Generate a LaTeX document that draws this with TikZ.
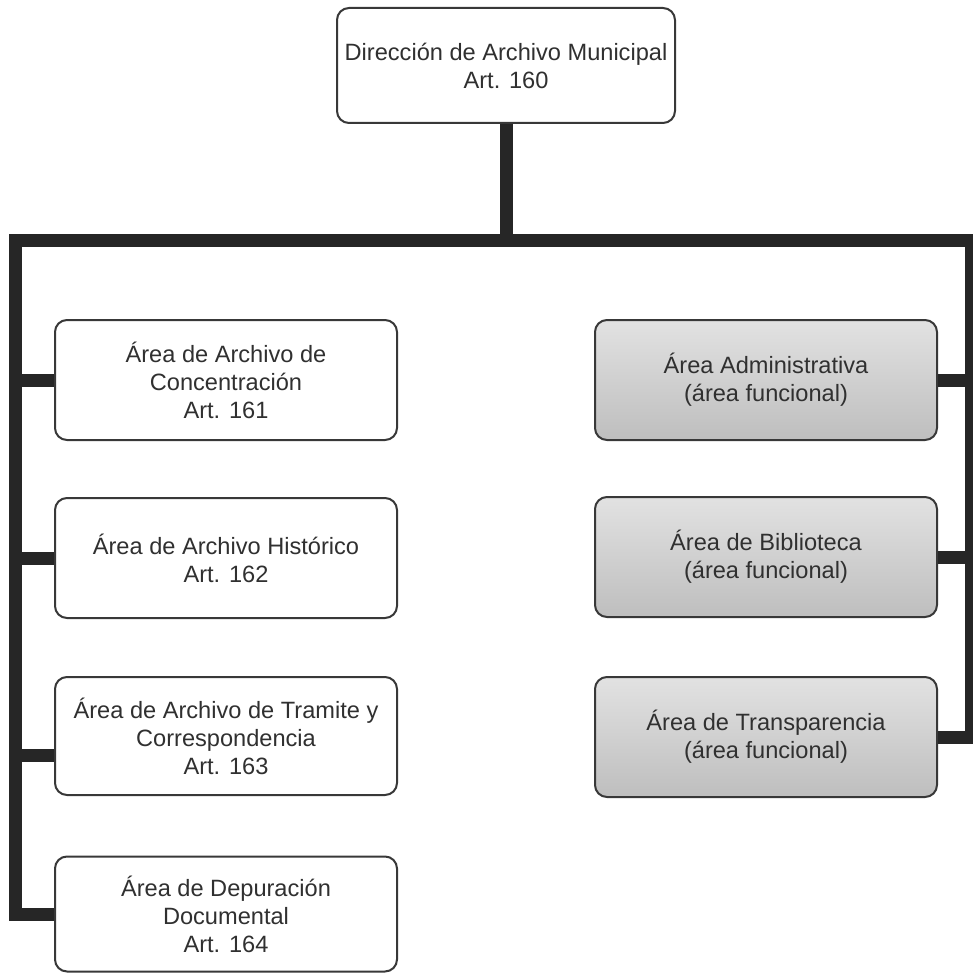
\documentclass[tikz,border=0pt]{standalone}
\usepackage{fontspec}
\setmainfont{Liberation Sans}

\definecolor{ink}{HTML}{303030}
\definecolor{edge}{HTML}{383838}
\definecolor{barcol}{HTML}{262626}
\definecolor{gtop}{HTML}{E2E2E2}
\definecolor{gmid}{HTML}{DADADA}
\definecolor{gbot}{HTML}{BEBEBE}

\tikzset{
  box/.style={draw=edge, line width=2pt, rounded corners=12pt, fill=white,
    align=center, text=ink, font=\fontsize{23.6}{28}\selectfont,
    minimum width=342pt, minimum height=120pt, inner sep=0pt},
  fnbox/.style={box, top color=gtop, middle color=gmid, bottom color=gbot},
  conn/.style={draw=barcol, line width=13pt, line join=miter, line cap=butt}
}

\begin{document}
\begin{tikzpicture}[x=1pt,y=-1pt]
\useasboundingbox (0,0) rectangle (973,973);

% connector network (drawn first, boxes sit on top)
\coordinate (hub) at (505,241);
\coordinate (lcorner) at (15,241);
\coordinate (rcorner) at (971,241);

% director
\node[box, minimum width=338pt, minimum height=115pt] (dir) at (506,65.5)
  {Dirección de Archivo Municipal\\Art. 160};

% left column: areas with article
\node[box] (l1) at (226,380) {Área de Archivo de\\Concentración\\Art. 161};
\node[box] (l2) at (226,558) {Área de Archivo Histórico\\Art. 162};
\node[box, minimum height=118pt] (l3) at (226,736) {Área de Archivo de Tramite y\\Correspondencia\\Art. 163};
\node[box, minimum height=115pt] (l4) at (226,914) {Área de Depuración\\Documental\\Art. 164};

% right column: functional areas
\node[fnbox] (r1) at (766,380) {Área Administrativa\\(área funcional)};
\node[fnbox] (r2) at (766,557) {Área de Biblioteca\\(área funcional)};
\node[fnbox] (r3) at (766,737) {Área de Transparencia\\(área funcional)};

% trunk and main bus
\draw[conn] (dir.south) -- (dir.south |- hub);
\draw[conn] (l4.west) -| (lcorner) -- (rcorner) |- (r3.east);

% branches
\draw[conn] (lcorner |- l1.west) -- (l1.west);
\draw[conn] (lcorner |- l2.west) -- (l2.west);
\draw[conn] ([yshift=-19pt]l3.west -| lcorner) -- ([yshift=-19pt]l3.west);
\draw[conn] (rcorner |- r1.east) -- (r1.east);
\draw[conn] (rcorner |- r2.east) -- (r2.east);
\end{tikzpicture}
\end{document}
